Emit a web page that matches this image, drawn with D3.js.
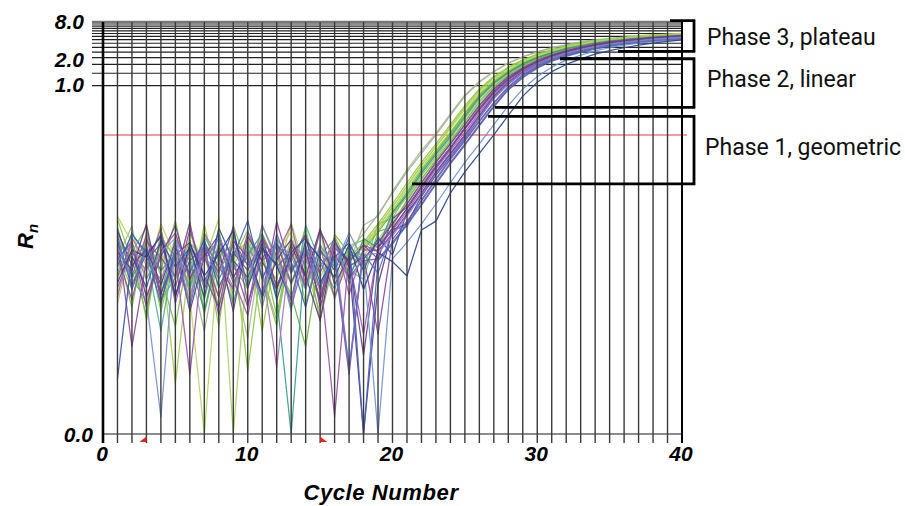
<!DOCTYPE html>
<html>
<head>
<meta charset="utf-8">
<script src="https://cdn.jsdelivr.net/npm/d3@7/dist/d3.min.js"></script>
<style>
  body { margin: 0; background: #fff; }
  .axis-text { font-family: "Liberation Sans", Arial, sans-serif; font-weight: bold; font-style: italic; fill: #000; }
  .phase-text { font-family: Roboto, "Noto Sans", sans-serif; fill: #111; }
</style>
</head>
<body>
<svg id="chart" width="905" height="506"></svg>
<script>
// amplification plot, Rn on a log axis
const cycles = [1,2,3,4,5,6,7,8,9,10,11,12,13,14,15,16,17,18,19,20,
  21,22,23,24,25,26,27,28,29,30,31,32,33,34,35,36,37,38,39,40];

const yMin = 1.15e-5, yMax = 8;
const gridValues = [1, 1.5, 2, 2.5, 3, 3.5, 4, 4.5, 5, 5.5, 6, 6.5, 7, 7.5, 8];
const yLabelValues = [8, 2, 1, yMin];
const yLabelTexts = ["8.0", "2.0", "1.0", "0.0"];
const xTickValues = [0, 10, 20, 30, 40];
const thresholdRn = 0.2;
const baselineCycles = [3, 15];

// phase annotation brackets (data units)
const phaseNames = ["Phase 3, plateau", "Phase 2, linear", "Phase 1, geometric"];
const phaseTopRn = [8.35, 2.41, 0.368];
const phaseBottomRn = [3.07, 0.494, 0.0404];
const phaseTopFrom = [39.17, 31.57, 26.6];
const phaseBottomFrom = [35.58, 27.08, 21.35];
const bracketCycle = 40.83;
const phaseLabelCycle = [41.73, 41.73, 41.59];
const phaseLabelRn = [3.78, 0.95, 0.104];

const wellColors = [
  "#9fb08f", "#a9b896",
  "#8cc63f", "#97c93d", "#7dbb42", "#a2cd48", "#88c057", "#6fb33f", "#b5d65a", "#84c341", "#a8d060", "#76b84b",
  "#2b9c8e", "#45b3a2",
  "#8e3f9e", "#7a3a96", "#9b4fae", "#a05aa8", "#5e2f85", "#8a4aa5", "#964ca0", "#7f45a8", "#b070b8", "#693b8c",
  "#2f4fa2", "#3c63b8", "#6f8fd0", "#24408f", "#4f74c4",
  "#8f86c8"
];

// one row per well, Rn for cycles 1..40 (0 = negative, drawn at the floor)
const wellRn = [
  [.0064,.0015,.0053,.00072,.0078,.0027,.00033,.004,.0011,.0071,.002,.00047,.0048,.00137,.0086,.0033,
   .0045,.008,.015,.03,.06,.11,.2,.38,.71,1.12,1.58,2.09,2.57,3.02,3.47,3.8,4.17,4.47,4.68,4.9,5.13,5.25,5.37,5.5],
  [.0037,.0102,.001,.0044,.0018,.0118,.00055,.0058,.0022,.00026,.0066,.0032,.00092,.008,.0019,.0053,
   .003,.0105,.014,.032,.064,.12,.21,.4,.74,1.15,1.6,2.1,2.56,3.0,3.42,3.75,4.1,4.4,4.62,4.85,5.05,5.2,5.3,5.42],
  [.0128,.0032,.006,.00063,.0043,.0015,.0082,.0024,.0053,.00009,.0036,.0013,.0068,.00082,.0045,.0027,
   .0035,.006,.011,.021,.042,.082,.15,.28,.52,.9,1.35,1.83,2.33,2.8,3.25,3.63,4.0,4.32,4.58,4.8,5.0,5.2,5.3,5.43],
  [.0018,.0056,.00047,.0075,.0034,.00092,.0108,.00137,.0041,.0062,.00033,.0051,.0022,.0098,.0011,.004,
   .0031,.0054,.0099,.019,.038,.074,.136,.26,.49,.86,1.3,1.78,2.27,2.74,3.18,3.55,3.9,4.22,4.47,4.68,4.88,5.05,5.17,5.3],
  [.0047,.00072,.0084,.002,.00039,.0058,.0037,.001,.0077,.0016,.0045,.00055,.0062,.0028,.00092,.0078,.0043,
   .0025,.011,.013,.03,.06,.11,.2,.38,.71,1.12,1.58,2.09,2.57,3.02,3.47,3.8,4.17,4.47,4.68,4.9,5.13,5.25,5.37],
  [.0011,.0071,.0028,.0048,.00006,.0038,.00137,.0094,.00082,.0055,.0033,.0018,.0114,.0024,.00063,.0059,.0034,
   .005,.009,.017,.034,.067,.123,.22,.42,.77,1.18,1.64,2.14,2.62,3.07,3.52,3.86,4.23,4.53,4.75,4.97,5.2,5.32,5.45],
  [.0078,.0022,.00082,.0062,.0041,.0013,.0051,.00039,.0104,.0027,.00092,.0069,.0015,.0044,.0032,.001,.0053,
   .0065,.0045,.015,.026,.053,.097,.177,.34,.65,1.05,1.5,2.0,2.48,2.94,3.38,3.72,4.08,4.38,4.6,4.82,5.03,5.16,5.28],
  [.0027,.0044,.0098,.00092,.0019,.0064,.00063,.0038,.0056,.00137,.008,.0028,.0011,.0002,.004,.0066,.002,
   .0047,.0084,.0158,.031,.063,.115,.21,.4,.73,1.13,1.58,2.06,2.52,2.95,3.38,3.7,4.05,4.33,4.53,4.74,4.95,5.07,5.2],
  [.014,.006,.002,.011,.0037,.001,0,.0048,.0027,.0071,.00072,.0043,.0084,.0013,.0056,.0018,.004,
   .0056,.01,.019,.037,.075,.137,.245,.46,.82,1.24,1.7,2.2,2.67,3.1,3.55,3.88,4.24,4.53,4.74,4.95,5.17,5.3,5.42],
  [.0041,.0013,.0068,.0024,.0122,.0015,.0045,.00072,.0034,.009,.002,.00039,.0058,.0037,.00137,.0073,.0028,
   .0035,.006,.011,.021,.042,.082,.15,.28,.52,.9,1.35,1.83,2.33,2.8,3.25,3.63,4.0,4.32,4.58,4.8,5.0,5.2,5.3],
  [.00082,.0053,.0019,.0043,.001,.0078,.0032,.013,0,.0038,.0066,.0011,.0048,.0022,.0088,.00092,.0044,
   .0039,.0066,.012,.023,.046,.09,.165,.31,.56,.95,1.4,1.88,2.37,2.84,3.28,3.66,4.03,4.34,4.6,4.82,5.02,5.2,5.33],
  [.0058,.0036,.00055,.0086,.0018,.0047,.00092,.006,.0028,.0013,.0102,.0038,.0016,.0053,.00047,.0037,.0024,
   .0018,.0085,.010,.024,.048,.088,.16,.31,.6,.98,1.42,1.92,2.4,2.86,3.3,3.64,4.0,4.3,4.52,4.74,4.96,5.1,5.22],
  [.0098,.0019,.0045,.0011,.0066,.0033,.00063,.0056,.0016,.004,.008,.001,0,.0048,.0027,.0062,.0018,
   .0068,.005,.016,.028,.057,.105,.19,.36,.68,1.08,1.52,2.02,2.48,2.92,3.35,3.67,4.02,4.3,4.5,4.7,4.9,5.0,5.1],
  [.0022,.0082,.0038,.00033,.0051,.00137,.0071,.0034,.00082,.0059,.0019,.0043,.00063,.0106,.0032,.0013,.0045,
   .0035,.006,.011,.021,.042,.082,.15,.28,.52,.89,1.32,1.78,2.25,2.7,3.12,3.48,3.82,4.12,4.37,4.58,4.76,4.9,5.0],
  [.0071,.0002,.0033,.0058,.00137,.0092,.002,.00072,.0064,.0037,.0011,.0118,.0024,.0047,.00092,.0041,.0019,
   .0035,.006,.011,.021,.042,.082,.15,.28,.52,.9,1.34,1.8,2.28,2.74,3.17,3.53,3.88,4.18,4.43,4.65,4.85,5.02,5.15],
  [.0034,.0062,.001,.0038,.0104,.0018,.0055,.00055,.0043,.0024,.0068,.00137,.0036,.0078,.00072,.005,.0032,
   .0055,.0035,.013,.019,.038,.074,.135,.255,.48,.84,1.27,1.73,2.2,2.65,3.08,3.45,3.8,4.1,4.35,4.56,4.76,4.92,5.05],
  [.005,.002,.0075,.00092,.0037,.00008,.006,.0027,.0013,.0084,.0033,.0053,.00072,.0041,.0022,.0069,.0011,.0048,
   .0045,.008,.015,.03,.06,.11,.2,.38,.71,1.12,1.58,2.05,2.5,2.9,3.28,3.58,3.9,4.15,4.35,4.55,4.72,4.88],
  [.00137,.0043,.0024,.0096,.00082,.0048,.0033,.0068,.0018,.00055,.0056,.004,.0108,.0015,.0051,.001,.0036,.0003,
   .005,.0088,.0165,.033,.066,.12,.22,.41,.75,1.16,1.62,2.09,2.54,2.94,3.32,3.62,3.94,4.19,4.39,4.59,4.76,4.92],
  [.0086,.0028,.0048,.0015,.006,.00063,.0038,.0077,.0019,.0045,.001,.0034,.0066,.002,.00047,.0058,.0032,0,
   .0015,.009,.011,.027,.054,.099,.18,.35,.66,1.06,1.52,1.98,2.43,2.83,3.2,3.5,3.82,4.08,4.28,4.48,4.65,4.8],
  [.0038,.00092,.0062,.0036,.002,.0114,.0013,.005,.0032,.00072,.0073,.0027,.0044,.00137,.009,.0034,.00008,.0055,
   .0045,.008,.015,.03,.06,.11,.2,.38,.71,1.12,1.6,2.08,2.54,2.95,3.34,3.66,3.98,4.24,4.45,4.65,4.83,5.0],
  [.002,.0058,.00072,.0045,.0082,.0018,.004,.001,.0064,.0028,.005,.0015,.0037,.0075,.0022,.00002,.0041,.0033,
   .0035,.006,.011,.021,.042,.082,.15,.28,.52,.9,1.35,1.83,2.3,2.68,3.05,3.4,3.7,3.98,4.2,4.4,4.55,4.7],
  [.006,.0015,.0041,.0071,.0011,.0033,.0053,.0022,.01,.00082,.0036,.0059,.0016,.0044,.00092,.0064,.0027,.0038,
   .0003,.0066,.012,.023,.046,.09,.165,.31,.56,.95,1.4,1.88,2.34,2.72,3.09,3.43,3.73,4.0,4.22,4.42,4.58,4.73],
  [.001,.0068,.0032,.0018,.0056,.00082,.008,.0037,.00137,.0048,.0027,.0001,.0062,.0034,.0013,.0053,.0001,.0045,
   .0054,.0096,.018,.036,.072,.13,.24,.44,.8,1.2,1.66,2.12,2.56,2.96,3.34,3.64,3.95,4.2,4.4,4.6,4.77,4.92],
  [.0044,.0024,.011,.0011,.004,.006,.0016,.0047,.00063,.0073,.0032,.0013,.0055,.0019,.0094,.0015,.0038,
   .00015,.0051,.0094,.018,.036,.07,.128,.245,.46,.8,1.23,1.7,2.17,2.62,3.05,3.42,3.77,4.08,4.33,4.55,4.75,4.92,5.05],
  [.00007,.0038,.00137,.0064,.0027,.005,.001,.0096,.0033,.0019,.0058,.00092,.0043,.0069,.0016,.0037,.0059,.0024,
   .007,.004,.016,.028,.057,.105,.19,.36,.68,1.08,1.53,2.0,2.44,2.84,3.2,3.5,3.82,4.07,4.27,4.46,4.63,4.78],
  [.0028,.0078,.0043,.00082,.0051,.0022,.0066,.00137,.0038,.0122,.0018,.0056,.0032,.00072,.0047,.0024,.0071,0,
   .0033,.0057,.0105,.02,.04,.078,.143,.27,.5,.87,1.3,1.77,2.23,2.6,2.96,3.3,3.6,3.88,4.1,4.3,4.46,4.6],
  [.0053,.0018,.00092,.00002,.0059,.0034,.0015,.0075,.0024,.0044,.00072,.0066,.0038,.0013,.0055,.0027,.0082,.0033,0,
   .0035,.006,.011,.021,.042,.082,.15,.28,.52,.9,1.35,1.83,2.3,2.72,3.12,3.45,3.75,4.0,4.2,4.36,4.5],
  [.0016,.0047,.0037,.0077,.001,.0058,.002,.0041,.0088,.00137,.005,.0028,.00092,.0064,.0036,.0019,.0056,.0013,.0043,.0032,
   .002,.009,.012,.03,.06,.11,.2,.38,.71,1.12,1.58,2.0,2.4,2.8,3.15,3.45,3.75,4.0,4.25,4.45],
  [.0075,.0013,.005,.0024,.004,.00072,.006,.0018,.0045,.0034,.001,.008,.0022,.0053,.00137,.0038,.0001,.0041,
   .0022,.009,.01,.024,.048,.094,.172,.32,.58,.98,1.43,1.9,2.36,2.74,3.1,3.43,3.72,3.98,4.2,4.4,4.56,4.72],
  [.0033,.0056,.0018,.0044,.0069,.0011,.0037,.0022,.0059,.0015,.0106,.0032,.00092,.005,.0027,.0062,.0016,.004,
   .0042,.0074,.014,.028,.056,.102,.186,.355,.67,1.07,1.53,2.0,2.46,2.87,3.25,3.55,3.87,4.12,4.32,4.52,4.7,4.86]
];

const svg = d3.select("#chart");

const x = d3.scaleLinear().domain([0, 40]).range([103, 682]);
const y = d3.scaleLog().domain([yMin, yMax]).range([434, 22]);
const yBottom = y(yMin);

// horizontal grid (with ticks poking out to the left)
svg.append("g").selectAll("line").data(gridValues).join("line")
  .attr("x1", x(0) - 11).attr("x2", x(40))
  .attr("y1", d => y(d)).attr("y2", d => y(d))
  .attr("stroke", d => d === yMax ? "#777" : "#222")
  .attr("stroke-width", d => d === yMax ? 2.4 : 1.2);

// bottom line
svg.append("line")
  .attr("x1", x(0)).attr("x2", x(40))
  .attr("y1", yBottom).attr("y2", yBottom)
  .attr("stroke", "#666").attr("stroke-width", 1.6);

// threshold
svg.append("line")
  .attr("x1", x(0)).attr("x2", x(40) + 5)
  .attr("y1", y(thresholdRn)).attr("y2", y(thresholdRn))
  .attr("stroke", "#f07a7a").attr("stroke-width", 1.6);

// wells
const line = d3.line()
  .x((v, i) => x(cycles[i]))
  .y(v => y(Math.max(v, yMin)));

svg.append("g").selectAll("path").data(wellRn).join("path")
  .attr("d", line)
  .attr("fill", "none")
  .attr("stroke", (d, i) => wellColors[i])
  .attr("stroke-width", 1.25)
  .attr("stroke-opacity", 0.9)
  .attr("stroke-linejoin", "round");

// vertical grid, one per cycle, drawn over the curves
svg.append("g").selectAll("line").data(d3.range(0, 41)).join("line")
  .attr("x1", d => x(d)).attr("x2", d => x(d))
  .attr("y1", y(yMax)).attr("y2", yBottom + 9)
  .attr("stroke", d => (d === 0 || d === 40) ? "#000" : "#3a3a3a")
  .attr("stroke-width", d => d === 0 ? 2.6 : (d === 40 ? 2 : 1.4));

// baseline start / end markers
svg.append("g").selectAll("path").data(baselineCycles).join("path")
  .attr("d", (d, i) => {
    const cx = x(d), dir = i === 0 ? -1 : 1;
    return `M${cx},${yBottom + 2.5}L${cx},${yBottom + 8}L${cx + dir * 7},${yBottom + 8}Z`;
  })
  .attr("fill", "#e8221b");

// y labels ("2.0" sits a little above its line, "0.0" a little lower/right)
svg.append("g").selectAll("text").data(yLabelValues).join("text")
  .attr("class", "axis-text")
  .attr("x", d => d === yMin ? 93 : 84)
  .attr("y", d => y(d) + (d === yMin ? 8 : (d === 2 ? 2.5 : 6.5)))
  .attr("text-anchor", "end")
  .attr("font-size", 21)
  .text((d, i) => yLabelTexts[i]);

// x labels
svg.append("g").selectAll("text").data(xTickValues).join("text")
  .attr("class", "axis-text")
  .attr("x", d => x(d) - 1)
  .attr("y", 461)
  .attr("text-anchor", "middle")
  .attr("font-size", 21)
  .text(d => d);

// axis titles
svg.append("text")
  .attr("class", "axis-text")
  .attr("x", 381).attr("y", 500)
  .attr("text-anchor", "middle")
  .attr("font-size", 22)
  .attr("letter-spacing", 0.6)
  .text("Cycle Number");

const yTitle = svg.append("text")
  .attr("class", "axis-text")
  .attr("transform", "translate(33,249) rotate(-90)")
  .attr("font-size", 22);
yTitle.append("tspan").text("R");
yTitle.append("tspan").attr("dy", 5).attr("font-size", 15).text("n");

// phase brackets
const bracket = svg.append("g")
  .attr("fill", "none").attr("stroke", "#000").attr("stroke-width", 2.8);
phaseNames.forEach((name, i) => {
  bracket.append("path")
    .attr("d", `M${x(phaseTopFrom[i])},${y(phaseTopRn[i])}` +
               `H${x(bracketCycle)}V${y(phaseBottomRn[i])}` +
               `H${x(phaseBottomFrom[i])}`);
  svg.append("text")
    .attr("class", "phase-text")
    .attr("x", x(phaseLabelCycle[i]))
    .attr("y", y(phaseLabelRn[i]))
    .attr("font-size", 23)
    .text(name);
});
</script>
</body>
</html>
